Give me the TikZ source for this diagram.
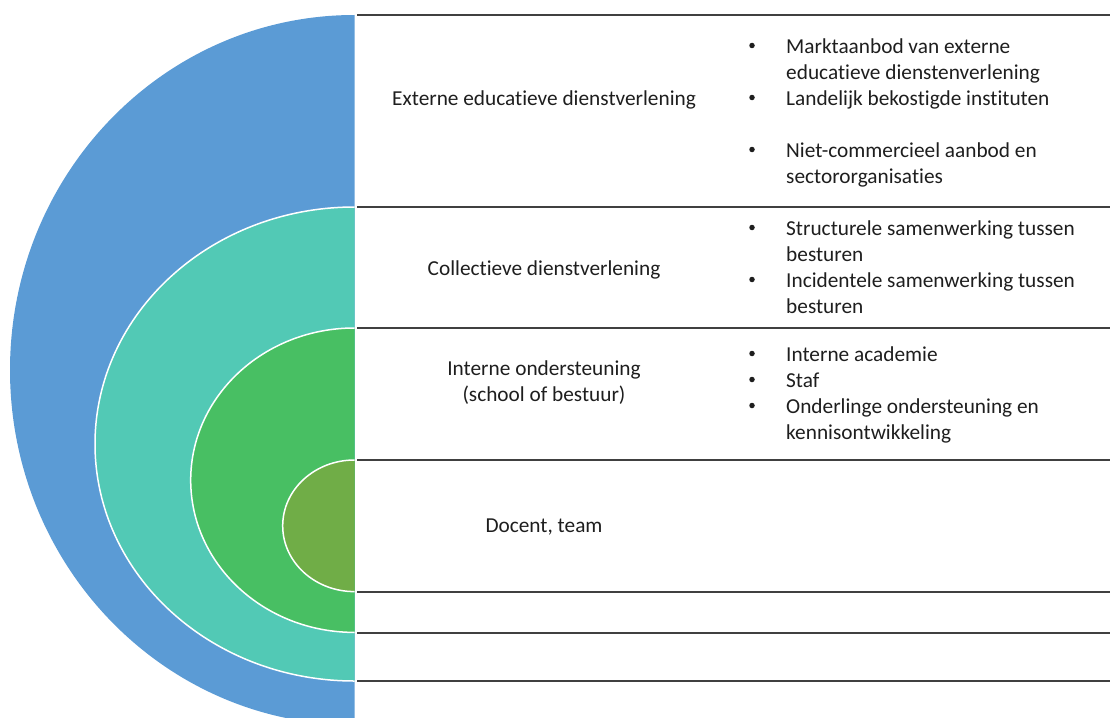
\documentclass[tikz,border=0pt]{standalone}
\usepackage{fontspec}
\setmainfont[RawFeature = -liga, RawFeature = -dlig, RawFeature = -clig, RawFeature = -calt]{Carlito}

\definecolor{outerblue}{HTML}{5B9BD5}
\definecolor{collteal}{HTML}{52C9B5}
\definecolor{intgreen}{HTML}{48BF63}
\definecolor{coreolive}{HTML}{70AD47}
\definecolor{rulegray}{HTML}{404040}
\definecolor{textgray}{HTML}{1E1E1E}

\begin{document}
\begin{tikzpicture}[x = 1pt, y = -1pt,
                    band/.style = {draw = white, line width = 1.5pt},
                    rule/.style = {draw = rulegray, line width = 2pt},
                    layer/.style = {anchor = base, inner sep = 0pt, text = textgray,
                                    font = \fontsize{21.3}{26}\selectfont},
                    item/.style = {layer, anchor = base west},
                    dot/.style = {circle, fill = textgray, inner sep = 0pt, minimum size = 5.5pt}]
  \useasboundingbox (0, 0) rectangle (1110, 717);

  % half rings, one inside the other
  \begin{scope}
    \clip (0, 0) rectangle (354.5, 717);
    \fill [outerblue] (354.5, 370) ellipse [x radius = 344.5, y radius = 355];
    \filldraw [band, fill = collteal] (354.5, 444) ellipse [x radius = 259.5, y radius = 237];
    \filldraw [band, fill = intgreen] (354.5, 480.2) ellipse [x radius = 163.8, y radius = 152.2];
    \filldraw [band, fill = coreolive] (354.5, 525.8) ellipse [x radius = 71.8, y radius = 65.8];
  \end{scope}

  % rows
  \foreach \y in {15, 207, 328, 460, 591.5, 632.5, 681}
    \draw [rule] (357, \y) -- (1110, \y);

  % level names
  \node [layer] (ext) at (544, 105) {Externe educatieve dienstverlening};
  \node [layer] (coll) at (544, 275) {Collectieve dienstverlening};
  \node [layer] (int1) at (544, 375) {Interne ondersteuning};
  \node [layer] (int2) at (544, 401) {(school of bestuur)};
  \node [layer] (doc) at (544, 532) {Docent, team};

  % bullet lists
  \foreach \name/\yb in {b1/53, b2/105, b3/157, b4/235, b5/287, b6/361, b7/387, b8/413}
    \node [dot] (\name) at (752, \yb - 7.5) {};

  \foreach \name/\yb/\txt in {m1/53/{Marktaanbod van externe},
                              m2/79/{educatieve dienstenverlening},
                              m3/105/{Landelijk bekostigde instituten},
                              m4/157/{Niet-commercieel aanbod en},
                              m5/183/{sectororganisaties},
                              s1/235/{Structurele samenwerking tussen},
                              s2/261/{besturen},
                              s3/287/{Incidentele samenwerking tussen},
                              s4/313/{besturen},
                              a1/361/{Interne academie},
                              a2/387/{Staf},
                              a3/413/{Onderlinge ondersteuning en},
                              a4/439/{kennisontwikkeling}}
    \node [item] (\name) at (786, \yb) {\txt};
\end{tikzpicture}
\end{document}
